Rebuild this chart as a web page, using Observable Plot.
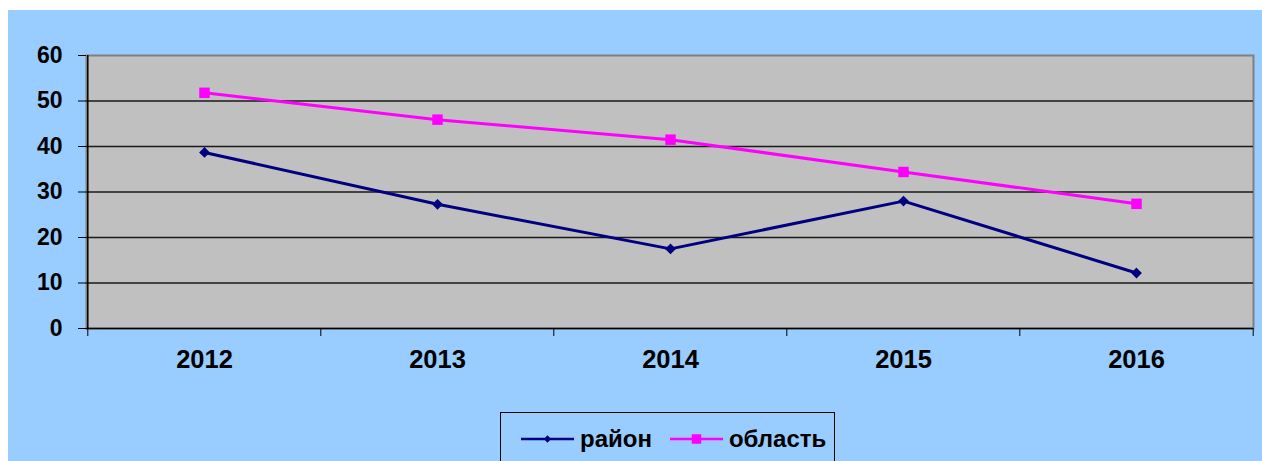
<!DOCTYPE html>
<html>
<head>
<meta charset="utf-8">
<script src="https://cdn.jsdelivr.net/npm/d3@7"></script>
<script src="https://cdn.jsdelivr.net/npm/@observablehq/plot@0.6"></script>
<style>
  html, body { margin: 0; padding: 0; background: #ffffff; }
  #chart {
    position: absolute; left: 8px; top: 10px;
    width: 1254px; height: 451px;
    background: #99CCFF; overflow: hidden;
    font-family: "Liberation Sans", Arial, sans-serif;
  }
  #legend {
    position: absolute; left: 492px; top: 402px;
    width: 335px; height: 70px;
    border: 1px solid #000;
    display: flex; align-items: flex-start;
    padding-top: 12px; padding-left: 20px; box-sizing: border-box;
    font-weight: bold; font-size: 24px; color: #000;
  }
  #legend .item { display: flex; align-items: center; height: 28px; }
  #legend svg { display: block; margin-right: 6px; }
</style>
</head>
<body>
<div id="chart"></div>
<script>
// Years on the category axis
const years = ["2012", "2013", "2014", "2015", "2016"];
// Series values
const raion = [38.7, 27.3, 17.5, 28.0, 12.2];
const oblast = [51.8, 45.9, 41.5, 34.4, 27.4];
// Series names and colours
const seriesNames = ["район", "область"];
const seriesColors = ["#000080", "#FF00FF"];
// Y axis ticks
const yTicks = [0, 10, 20, 30, 40, 50, 60];

const rows = [
  ...years.map((year, i) => ({year, value: raion[i], series: seriesNames[0]})),
  ...years.map((year, i) => ({year, value: oblast[i], series: seriesNames[1]}))
];

const width = 1254, height = 400;
const marginLeft = 78, marginRight = 9, marginTop = 45, marginBottom = 82;
const step = (width - marginLeft - marginRight) / years.length;
const font = {fontFamily: "Liberation Sans, Arial, sans-serif", fontWeight: "bold"};

const chart = Plot.plot({
  width, height, marginLeft, marginRight, marginTop, marginBottom,
  style: {background: "transparent", overflow: "visible", color: "#000", ...font},
  x: {type: "point", domain: years, padding: 0.5, label: null},
  y: {domain: [0, 60], label: null},
  marks: [
    Plot.frame({fill: "#C0C0C0", stroke: "#808080", strokeWidth: 2}),
    Plot.gridY(yTicks.filter(t => t > 0 && t < 60), {stroke: "#1a1a1a", strokeOpacity: 1, strokeWidth: 1.4}),
    Plot.ruleY([0], {stroke: "#000", strokeWidth: 1.5}),
    Plot.ruleX([years[0]], {dx: -step / 2, stroke: "#000", strokeWidth: 1.5}),
    Plot.axisY({ticks: yTicks, tickSize: 8, tickPadding: 16, fontSize: 23, ...font, label: null}),
    // category boundary ticks below the axis
    Plot.axisX({ticks: years, tickSize: 8, tickFormat: () => "", dx: -step / 2, label: null}),
    Plot.axisX({ticks: years.slice(-1), tickSize: 8, tickFormat: () => "", dx: step / 2, label: null}),
    Plot.axisX({ticks: years, tickSize: 0, tickPadding: 21, fontSize: 25.5, ...font, label: null}),
    Plot.line(rows, {x: "year", y: "value", z: "series", stroke: "series", strokeWidth: 3}),
    Plot.dot(rows.filter(d => d.series === seriesNames[0]), {x: "year", y: "value", symbol: "diamond2", r: 3.9, fill: seriesColors[0], stroke: seriesColors[0]}),
    Plot.dot(rows.filter(d => d.series === seriesNames[1]), {x: "year", y: "value", symbol: "square", r: 5.9, fill: seriesColors[1], stroke: "none"})
  ],
  color: {domain: seriesNames, range: seriesColors}
});

const host = document.getElementById("chart");
host.appendChild(chart);

// Legend box under the plot
const legend = document.createElement("div");
legend.id = "legend";
seriesNames.forEach((name, i) => {
  const item = document.createElement("div");
  item.className = "item";
  if (i > 0) item.style.marginLeft = "18px";
  const sw = d3.create("svg").attr("width", 53).attr("height", 14);
  sw.append("line").attr("x1", 0).attr("x2", 53).attr("y1", 7).attr("y2", 7)
    .attr("stroke", seriesColors[i]).attr("stroke-width", 2.5);
  const sym = i === 0 ? d3.symbolDiamond2 : d3.symbolSquare;
  const size = i === 0 ? 34 : 90;
  sw.append("path").attr("d", d3.symbol(sym, size)()).attr("transform", "translate(26.5,7)")
    .attr("fill", seriesColors[i]);
  item.appendChild(sw.node());
  const label = document.createElement("span");
  label.textContent = name;
  item.appendChild(label);
  legend.appendChild(item);
});
host.appendChild(legend);
</script>
</body>
</html>
